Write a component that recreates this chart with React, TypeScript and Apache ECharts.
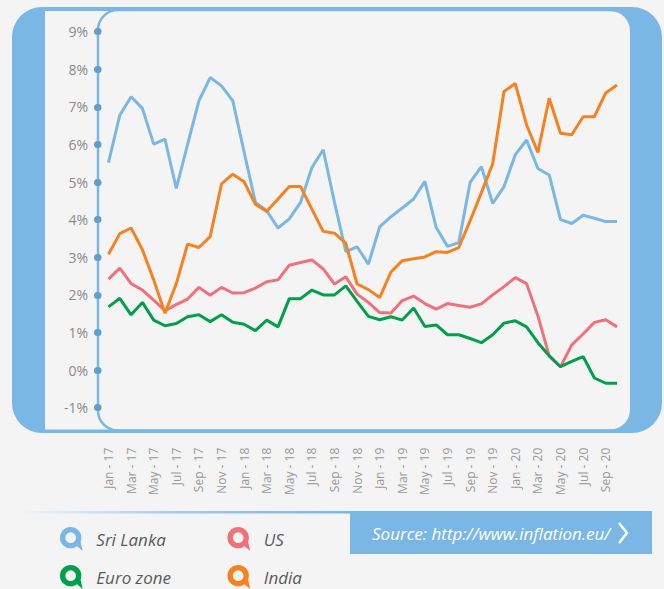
import React, { useEffect, useRef } from "react";
import * as echarts from "echarts";

const BLUE = "#7ab7e5";
const BG = "#f4f4f4";

const categories = [
  "Jan - 17", "Feb - 17", "Mar - 17", "Apr - 17", "May - 17", "Jun - 17",
  "Jul - 17", "Aug - 17", "Sep - 17", "Oct - 17", "Nov - 17", "Dec - 17",
  "Jan - 18", "Feb - 18", "Mar - 18", "Apr - 18", "May - 18", "Jun - 18",
  "Jul - 18", "Aug - 18", "Sep - 18", "Oct - 18", "Nov - 18", "Dec - 18",
  "Jan - 19", "Feb - 19", "Mar - 19", "Apr - 19", "May - 19", "Jun - 19",
  "Jul - 19", "Aug - 19", "Sep - 19", "Oct - 19", "Nov - 19", "Dec - 19",
  "Jan - 20", "Feb - 20", "Mar - 20", "Apr - 20", "May - 20", "Jun - 20",
  "Jul - 20", "Aug - 20", "Sep - 20", "Oct - 20",
];

const sriLanka = [
  5.52, 6.78, 7.27, 6.96, 6.01, 6.14, 4.83, 6.0, 7.16, 7.78, 7.56, 7.16,
  5.8, 4.46, 4.24, 3.78, 4.02, 4.46, 5.39, 5.86, 4.46, 3.15, 3.28, 2.82,
  3.81, 4.08, 4.31, 4.55, 5.02, 3.79, 3.29, 3.39, 4.99, 5.41, 4.43, 4.88,
  5.73, 6.12, 5.36, 5.19, 4.0, 3.9, 4.12, 4.04, 3.95, 3.95,
];

const us = [
  2.42, 2.71, 2.3, 2.13, 1.86, 1.58, 1.74, 1.89, 2.2, 1.99, 2.2, 2.05,
  2.06, 2.18, 2.35, 2.4, 2.79, 2.86, 2.93, 2.69, 2.29, 2.48, 2.02, 1.8,
  1.53, 1.52, 1.85, 1.97, 1.77, 1.62, 1.77, 1.72, 1.67, 1.76, 2.0, 2.22,
  2.46, 2.3, 1.44, 0.38, 0.09, 0.67, 0.96, 1.27, 1.34, 1.15,
];

const euroZone = [
  1.68, 1.91, 1.47, 1.8, 1.33, 1.18, 1.24, 1.42, 1.47, 1.29, 1.47, 1.27,
  1.22, 1.05, 1.33, 1.15, 1.9, 1.9, 2.13, 2.0, 2.0, 2.24, 1.83, 1.43,
  1.34, 1.42, 1.33, 1.65, 1.16, 1.2, 0.94, 0.94, 0.84, 0.73, 0.94, 1.25,
  1.31, 1.15, 0.73, 0.38, 0.09, 0.23, 0.36, -0.21, -0.35, -0.35,
];

const india = [
  3.08, 3.63, 3.78, 3.2, 2.4, 1.51, 2.3, 3.35, 3.26, 3.55, 4.95, 5.21,
  5.01, 4.41, 4.22, 4.55, 4.88, 4.88, 4.28, 3.69, 3.64, 3.37, 2.29, 2.14,
  1.93, 2.61, 2.91, 2.96, 3.01, 3.15, 3.13, 3.26, 3.97, 4.72, 5.49, 7.41,
  7.62, 6.52, 5.79, 7.23, 6.3, 6.26, 6.74, 6.74, 7.37, 7.58,
];

const yMin = -1;
const yMax = 9;
const yStep = 1;

const seriesNames = ["Sri Lanka", "US", "Euro zone", "India"];
const seriesColors = ["#7ab7e5", "#f0717a", "#00a04b", "#f5821f"];
const seriesData = [sriLanka, us, euroZone, india];

const sourceText = "Source: http://www.inflation.eu/";

const pinIcon =
  "path://M9,1A8,8 0 1,1 9,17A8,8 0 1,1 9,1Z M12,14L16,10L18,19Z M9,5A4,4 0 1,0 9,13A4,4 0 1,0 9,5Z";

export default function App() {
  const ref = useRef<HTMLDivElement>(null);

  useEffect(() => {
    const chart = echarts.init(ref.current!, null, { renderer: "svg" });
    const legendText = {
      fontStyle: "italic",
      fontSize: 17,
      color: "#5a5a5a",
      fontFamily: "Open Sans",
      padding: [0, 0, 0, 7],
    };
    const legendPos = [
      { left: 60, top: 527 },
      { left: 227.5, top: 527 },
      { left: 60, top: 565 },
      { left: 227.5, top: 565 },
    ];
    chart.setOption({
      animation: false,
      backgroundColor: BG,
      grid: { left: 108.5, right: 47, top: 31.7, bottom: 181.3 },
      xAxis: {
        type: "category",
        data: categories,
        boundaryGap: false,
        axisLine: { show: false },
        axisTick: { show: false },
        splitLine: { show: false },
        axisLabel: {
          interval: 1,
          rotate: 90,
          margin: 40,
          fontSize: 12,
          color: "#999",
          fontFamily: "Open Sans",
        },
      },
      yAxis: {
        type: "value",
        min: yMin,
        max: yMax,
        interval: yStep,
        offset: 10.5,
        axisLine: { show: false },
        splitLine: { show: false },
        axisTick: {
          show: true,
          length: 0.5,
          lineStyle: { color: "#5f9dcf", width: 7, cap: "round" },
        },
        axisLabel: {
          formatter: "{value}%",
          margin: 10,
          fontSize: 14,
          color: "#8a8a8a",
          fontFamily: "Open Sans",
        },
      },
      legend: seriesNames.map((name, i) => ({
        data: [name],
        orient: "horizontal",
        left: legendPos[i].left,
        top: legendPos[i].top,
        padding: 0,
        itemWidth: 26,
        itemHeight: 24,
        icon: pinIcon,
        selectedMode: false,
        itemStyle: { borderWidth: 0 },
        textStyle: legendText,
      })),
      graphic: [
        {
          type: "rect",
          z: -10,
          silent: true,
          shape: { x: 12, y: 7, width: 650, height: 426, r: 30 },
          style: { fill: BLUE },
        },
        {
          type: "rect",
          z: -9,
          silent: true,
          shape: { x: 45, y: 11, width: 585, height: 418.5, r: [0, 20, 20, 0] },
          style: { fill: BG },
        },
        {
          type: "rect",
          z: -8,
          silent: true,
          shape: { x: 98, y: 10, width: 540, height: 420.5, r: [20, 0, 0, 20] },
          style: { fill: "none", stroke: BLUE, lineWidth: 2.5 },
        },
        {
          type: "rect",
          z: -8,
          silent: true,
          shape: { x: 20, y: 511, width: 330, height: 2.5 },
          style: {
            fill: new echarts.graphic.LinearGradient(0, 0, 1, 0, [
              { offset: 0, color: "rgba(122,183,229,0)" },
              { offset: 0.5, color: "rgba(122,183,229,0.7)" },
              { offset: 1, color: BLUE },
            ]),
          },
        },
        {
          type: "rect",
          z: -8,
          silent: true,
          shape: { x: 350, y: 511, width: 302, height: 43 },
          style: { fill: BLUE },
        },
        {
          type: "text",
          z: 5,
          silent: true,
          x: 372,
          y: 533,
          style: {
            text: sourceText,
            fill: "#ffffff",
            fontSize: 17,
            fontStyle: "italic",
            fontFamily: "Open Sans",
            verticalAlign: "middle",
            align: "left",
          },
        },
        {
          type: "polyline",
          z: 5,
          silent: true,
          shape: { points: [[619, 523], [627, 533], [619, 543]] },
          style: { stroke: "#ffffff", lineWidth: 2.5, fill: "none" },
        },
      ],
      series: seriesNames.map((name, i) => ({
        name,
        type: "line",
        data: seriesData[i],
        symbol: "none",
        color: seriesColors[i],
        lineStyle: { width: 3, color: seriesColors[i] },
        emphasis: { disabled: true },
        z: 3,
      })),
    });
    return () => chart.dispose();
  }, []);

  return (
    <div
      ref={ref}
      style={{ position: "absolute", left: 0, top: 0, width: 664, height: 589, background: BG }}
    />
  );
}
